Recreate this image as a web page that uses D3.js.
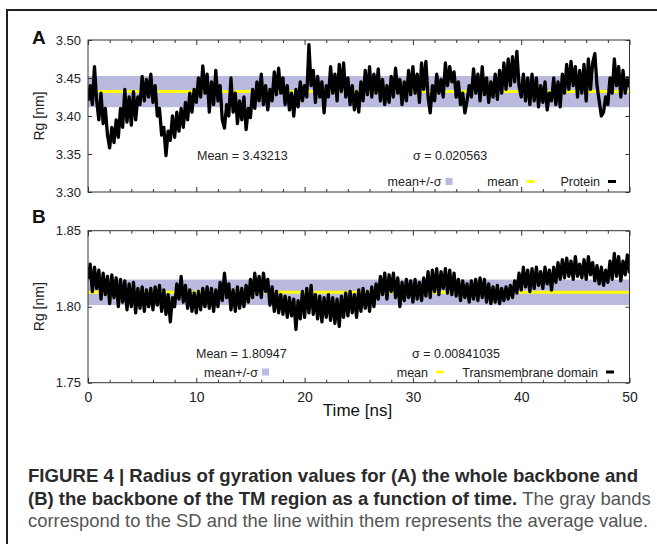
<!DOCTYPE html>
<html>
<head>
<meta charset="utf-8">
<script src="https://cdn.jsdelivr.net/npm/d3@7/dist/d3.min.js"></script>
<style>
  html, body { margin: 0; padding: 0; background: #fff; }
  svg { display: block; font-family: "Liberation Sans", Arial, sans-serif; }
</style>
</head>
<body>
<script>
// ---------------- data ----------------
const timeStep = 0.2; // ns between samples
const xMajorTicks = [0, 10, 20, 30, 40, 50];
const xMinorTicks = [2, 4, 6, 8, 12, 14, 16, 18, 22, 24, 26, 28, 32, 34, 36, 38, 42, 44, 46, 48];
const yTicksA = [3.30, 3.35, 3.40, 3.45, 3.50];
const yTicksB = [1.75, 1.80, 1.85];

const meanA = 3.43213, sdA = 0.020563;
const meanB = 1.80947, sdB = 0.00841035;

const rgProtein = [
  3.420, 3.440, 3.415, 3.465, 3.420,
  3.395, 3.430, 3.390, 3.410, 3.375,
  3.358, 3.385, 3.365, 3.395, 3.372,
  3.410, 3.385, 3.435, 3.392, 3.425,
  3.388, 3.432, 3.395, 3.425, 3.415,
  3.452, 3.420, 3.448, 3.425, 3.455,
  3.418, 3.440, 3.400, 3.410, 3.375,
  3.385, 3.348, 3.380, 3.368, 3.400,
  3.372, 3.405, 3.380, 3.410, 3.385,
  3.418, 3.395, 3.430, 3.405, 3.435,
  3.418, 3.450, 3.425, 3.466, 3.430,
  3.455, 3.405, 3.445, 3.415, 3.460,
  3.420, 3.440, 3.395, 3.384, 3.415,
  3.400, 3.450, 3.405, 3.430, 3.390,
  3.420, 3.395, 3.425, 3.382, 3.410,
  3.398, 3.435, 3.410, 3.445, 3.420,
  3.455, 3.415, 3.440, 3.408, 3.435,
  3.420, 3.458, 3.428, 3.463, 3.430,
  3.450, 3.415, 3.440, 3.408, 3.430,
  3.400, 3.435, 3.412, 3.445, 3.420,
  3.440, 3.425, 3.494, 3.440, 3.460,
  3.418, 3.452, 3.425, 3.445, 3.404,
  3.440, 3.425, 3.465, 3.430, 3.455,
  3.420, 3.468, 3.432, 3.470, 3.425,
  3.450, 3.415, 3.440, 3.408, 3.432,
  3.405, 3.445, 3.420, 3.460, 3.428,
  3.465, 3.425, 3.455, 3.430, 3.462,
  3.420, 3.448, 3.415, 3.440, 3.418,
  3.452, 3.425, 3.463, 3.430, 3.448,
  3.415, 3.445, 3.420, 3.460, 3.428,
  3.465, 3.430, 3.455, 3.418, 3.470,
  3.435, 3.472, 3.425, 3.404, 3.440,
  3.420, 3.455, 3.430, 3.448, 3.425,
  3.470, 3.440, 3.465, 3.445, 3.458,
  3.425, 3.445, 3.415, 3.430, 3.404,
  3.420, 3.440, 3.425, 3.462, 3.430,
  3.455, 3.420, 3.465, 3.428, 3.450,
  3.418, 3.445, 3.425, 3.455, 3.422,
  3.460, 3.430, 3.470, 3.435, 3.475,
  3.440, 3.478, 3.445, 3.485, 3.440,
  3.425, 3.455, 3.420, 3.450, 3.415,
  3.455, 3.420, 3.450, 3.412, 3.440,
  3.418, 3.445, 3.408, 3.430, 3.420,
  3.450, 3.415, 3.445, 3.412, 3.455,
  3.430, 3.468, 3.435, 3.472, 3.440,
  3.465, 3.425, 3.460, 3.430, 3.468,
  3.420, 3.475, 3.435, 3.470, 3.482,
  3.440, 3.420, 3.400, 3.405, 3.425,
  3.415, 3.450, 3.430, 3.475, 3.440,
  3.465, 3.425, 3.460, 3.430, 3.450,
  3.438
];

const rgTM = [
  1.818, 1.828, 1.810, 1.826, 1.812,
  1.824, 1.805, 1.822, 1.808, 1.820,
  1.802, 1.821, 1.806, 1.819, 1.800,
  1.818, 1.803, 1.817, 1.798, 1.815,
  1.800, 1.816, 1.796, 1.812, 1.799,
  1.813, 1.797, 1.811, 1.800, 1.812,
  1.798, 1.813, 1.801, 1.814, 1.797,
  1.811, 1.795, 1.808, 1.790, 1.806,
  1.800, 1.815, 1.805, 1.820, 1.803,
  1.814, 1.799, 1.811, 1.797, 1.809,
  1.796, 1.810, 1.798, 1.812, 1.800,
  1.813, 1.799, 1.812, 1.797, 1.811,
  1.800, 1.816, 1.804, 1.822, 1.806,
  1.815, 1.798, 1.811, 1.797, 1.813,
  1.799, 1.812, 1.800, 1.814, 1.803,
  1.818, 1.806, 1.822, 1.808, 1.820,
  1.806, 1.822, 1.810, 1.818, 1.801,
  1.813, 1.797, 1.810, 1.796, 1.808,
  1.795, 1.807, 1.793, 1.806, 1.794,
  1.805, 1.785, 1.804, 1.792, 1.810,
  1.793, 1.812, 1.796, 1.814, 1.795,
  1.808, 1.792, 1.807, 1.790, 1.806,
  1.793, 1.808, 1.791, 1.806, 1.789,
  1.805, 1.787, 1.807, 1.793, 1.809,
  1.794, 1.810, 1.796, 1.808, 1.793,
  1.811, 1.797, 1.812, 1.799, 1.810,
  1.797, 1.813, 1.800, 1.815, 1.805,
  1.820, 1.808, 1.822, 1.805, 1.821,
  1.810, 1.822, 1.806, 1.819, 1.800,
  1.816, 1.804, 1.818, 1.806, 1.817,
  1.803, 1.818, 1.805, 1.816, 1.804,
  1.819, 1.807, 1.823, 1.806, 1.824,
  1.810, 1.825, 1.808, 1.823, 1.812,
  1.825, 1.809, 1.824, 1.808, 1.822,
  1.807, 1.818, 1.804, 1.817, 1.806,
  1.815, 1.803, 1.817, 1.805, 1.818,
  1.804, 1.819, 1.806, 1.818, 1.803,
  1.815, 1.802, 1.813, 1.803, 1.814,
  1.802, 1.812, 1.804, 1.813, 1.805,
  1.814, 1.806, 1.817, 1.809, 1.822,
  1.811, 1.826, 1.813, 1.824, 1.810,
  1.825, 1.812, 1.826, 1.814, 1.823,
  1.812, 1.826, 1.815, 1.824, 1.811,
  1.826, 1.816, 1.829, 1.818, 1.831,
  1.819, 1.832, 1.820, 1.830, 1.818,
  1.833, 1.820, 1.828, 1.819, 1.831,
  1.818, 1.833, 1.821, 1.829, 1.817,
  1.827, 1.815, 1.826, 1.814, 1.824,
  1.816, 1.830, 1.818, 1.835, 1.820,
  1.833, 1.817, 1.830, 1.821, 1.834,
  1.822
];

const panelLetters = ["A", "B"];
const seriesNames = ["Protein", "Transmembrane domain"];
const bandLabel = "mean+/-\u03C3";
const meanLabel = "mean";
const yAxisTitle = "Rg [nm]";
const xAxisTitle = "Time [ns]";
const captionBold1 = "FIGURE 4 | Radius of gyration values for (A) the whole backbone and";
const captionBold2 = "(B) the backbone of the TM region as a function of time.";
const captionNorm2 = "The gray bands";
const captionNorm3 = "correspond to the SD and the line within them represents the average value.";

// ---------------- drawing ----------------
const W = 657, H = 544;
const svg = d3.select("body").append("svg").attr("width", W).attr("height", H);
svg.append("rect").attr("width", W).attr("height", H).attr("fill", "#fff");

// outer frame (left + top)
svg.append("path").attr("d", `M7,${H} V10 H${W}`).attr("fill", "none")
  .attr("stroke", "#231f20").attr("stroke-width", 2);

const x = d3.scaleLinear().domain([0, 50]).range([88, 629.5]);

const BAND = "#babade", YEL = "#ffff00";

function drawPanel(opt) {
  const y = d3.scaleLinear().domain(opt.domain).range([opt.bottom, opt.top]);
  const g = svg.append("g");
  const clipId = "clip" + opt.letter;
  svg.append("defs").append("clipPath").attr("id", clipId).append("rect")
    .attr("x", x(0)).attr("y", opt.top).attr("width", x(50) - x(0)).attr("height", opt.bottom - opt.top);

  const pg = g.append("g").attr("clip-path", `url(#${clipId})`);
  pg.append("rect").attr("x", x(0)).attr("width", x(50) - x(0))
    .attr("y", y(opt.mean + opt.sd)).attr("height", y(opt.mean - opt.sd) - y(opt.mean + opt.sd))
    .attr("fill", BAND);
  pg.append("line").attr("x1", x(0)).attr("x2", x(50)).attr("y1", y(opt.mean)).attr("y2", y(opt.mean))
    .attr("stroke", YEL).attr("stroke-width", 3);
  const line = d3.line().x((d, i) => x(i * timeStep)).y(d => y(d));
  pg.append("path").datum(opt.values).attr("d", line).attr("fill", "none")
    .attr("stroke", "#000").attr("stroke-width", 3.3).attr("stroke-linejoin", "round");

  // axes
  const styleAxis = sel => {
    sel.select(".domain").remove();
    sel.selectAll(".tick line").attr("stroke", "#333").attr("stroke-width", 1);
    sel.selectAll(".tick text").attr("fill", "#222").style("font-size", opt.yFont);
  };
  g.append("g").attr("transform", `translate(${x(0)},0)`)
    .call(d3.axisLeft(y).tickValues(opt.yTicks).tickSize(-4).tickPadding(7).tickFormat(d3.format(".2f")))
    .call(styleAxis);
  g.append("g").attr("transform", `translate(${x(50)},0)`)
    .call(d3.axisRight(y).tickValues(opt.yTicks).tickSize(-4).tickFormat(""))
    .call(styleAxis);
  g.append("g").attr("transform", `translate(0,${opt.top})`)
    .call(d3.axisTop(x).tickValues(xMinorTicks).tickSize(-3).tickFormat("")).call(styleAxis);
  g.append("g").attr("transform", `translate(0,${opt.top})`)
    .call(d3.axisTop(x).tickValues(xMajorTicks).tickSize(-5).tickFormat("")).call(styleAxis);
  g.append("g").attr("transform", `translate(0,${opt.bottom})`)
    .call(d3.axisBottom(x).tickValues(xMinorTicks).tickSize(-3).tickFormat("")).call(styleAxis);
  const xb = g.append("g").attr("transform", `translate(0,${opt.bottom})`)
    .call(d3.axisBottom(x).tickValues(xMajorTicks).tickSize(-5).tickPadding(9)
      .tickFormat(opt.showX ? d3.format("d") : ""));
  xb.select(".domain").remove();
  xb.selectAll(".tick line").attr("stroke", "#333");
  xb.selectAll(".tick text").attr("fill", "#222").style("font-size", "14px");

  // plot frame
  g.append("rect").attr("x", x(0)).attr("y", opt.top).attr("width", x(50) - x(0))
    .attr("height", opt.bottom - opt.top).attr("fill", "none").attr("stroke", "#333").attr("stroke-width", 1);

  // panel letter
  svg.append("text").attr("x", 32).attr("y", opt.letterY).text(opt.letter)
    .style("font-weight", "bold").style("font-size", "19px").attr("fill", "#111");

  // y title
  svg.append("text").attr("transform", `translate(44,${(opt.top + opt.bottom) / 2}) rotate(-90)`)
    .attr("text-anchor", "middle").style("font-size", "14px").attr("fill", "#222").text(yAxisTitle);

  // stats texts
  const fs = "12.5px";
  svg.append("text").attr("x", opt.meanX).attr("y", opt.statY).style("font-size", fs).attr("fill", "#222")
    .text("Mean = " + opt.mean.toString());
  svg.append("text").attr("x", opt.sigmaX).attr("y", opt.statY).style("font-size", fs).attr("fill", "#222")
    .text("\u03C3 = " + opt.sd.toString());

  // legend
  const ly = opt.legY;
  svg.append("text").attr("x", opt.legBandEnd).attr("y", ly + 4.5).attr("text-anchor", "end")
    .style("font-size", fs).attr("fill", "#222").text(bandLabel);
  svg.append("rect").attr("x", opt.legBandEnd + 4).attr("y", ly - 3.5).attr("width", 7).attr("height", 7).attr("fill", BAND);
  svg.append("text").attr("x", opt.legMeanEnd).attr("y", ly + 4.5).attr("text-anchor", "end")
    .style("font-size", fs).attr("fill", "#222").text(meanLabel);
  svg.append("line").attr("x1", opt.legMeanEnd + 8).attr("x2", opt.legMeanEnd + 16).attr("y1", ly).attr("y2", ly)
    .attr("stroke", YEL).attr("stroke-width", 3);
  svg.append("text").attr("x", opt.legSerEnd).attr("y", ly + 4.5).attr("text-anchor", "end")
    .style("font-size", fs).attr("fill", "#222").text(opt.name);
  svg.append("line").attr("x1", opt.legSerEnd + 8).attr("x2", opt.legSerEnd + 16).attr("y1", ly).attr("y2", ly)
    .attr("stroke", "#000").attr("stroke-width", 3);
  return y;
}

drawPanel({
  letter: panelLetters[0], letterY: 44, domain: [3.30, 3.50], top: 40, bottom: 192,
  values: rgProtein, mean: meanA, sd: sdA, yTicks: yTicksA, yFont: "13px", showX: false,
  meanX: 197, sigmaX: 413, statY: 159.5, legY: 181.5,
  legBandEnd: 441.5, legMeanEnd: 518.5, legSerEnd: 600, name: seriesNames[0]
});
drawPanel({
  letter: panelLetters[1], letterY: 223, domain: [1.75, 1.85], top: 230.7, bottom: 382.7,
  values: rgTM, mean: meanB, sd: sdB, yTicks: yTicksB, yFont: "13px", showX: true,
  meanX: 196, sigmaX: 412, statY: 357.5, legY: 372,
  legBandEnd: 258, legMeanEnd: 428, legSerEnd: 598, name: seriesNames[1]
});

// x title
svg.append("text").attr("x", 357.5).attr("y", 416).attr("text-anchor", "middle")
  .style("font-size", "17px").attr("fill", "#111").text(xAxisTitle);

// caption
const capFs = "18.5px";
svg.append("text").attr("x", 28).attr("y", 482).style("font-size", capFs).style("font-weight", "bold")
  .attr("fill", "#2a2a2a").attr("textLength", 610).attr("lengthAdjust", "spacingAndGlyphs").text(captionBold1);
const b2 = svg.append("text").attr("x", 28).attr("y", 504.5).style("font-size", capFs).style("font-weight", "bold")
  .attr("fill", "#2a2a2a").text(captionBold2);
const b2w = b2.node().getComputedTextLength();
svg.append("text").attr("x", 28 + b2w + 5).attr("y", 504.5).style("font-size", capFs)
  .attr("fill", "#555").text(captionNorm2);
svg.append("text").attr("x", 28).attr("y", 526.5).style("font-size", capFs)
  .attr("fill", "#555").attr("textLength", 620).attr("lengthAdjust", "spacingAndGlyphs").text(captionNorm3);
</script>
</body>
</html>
